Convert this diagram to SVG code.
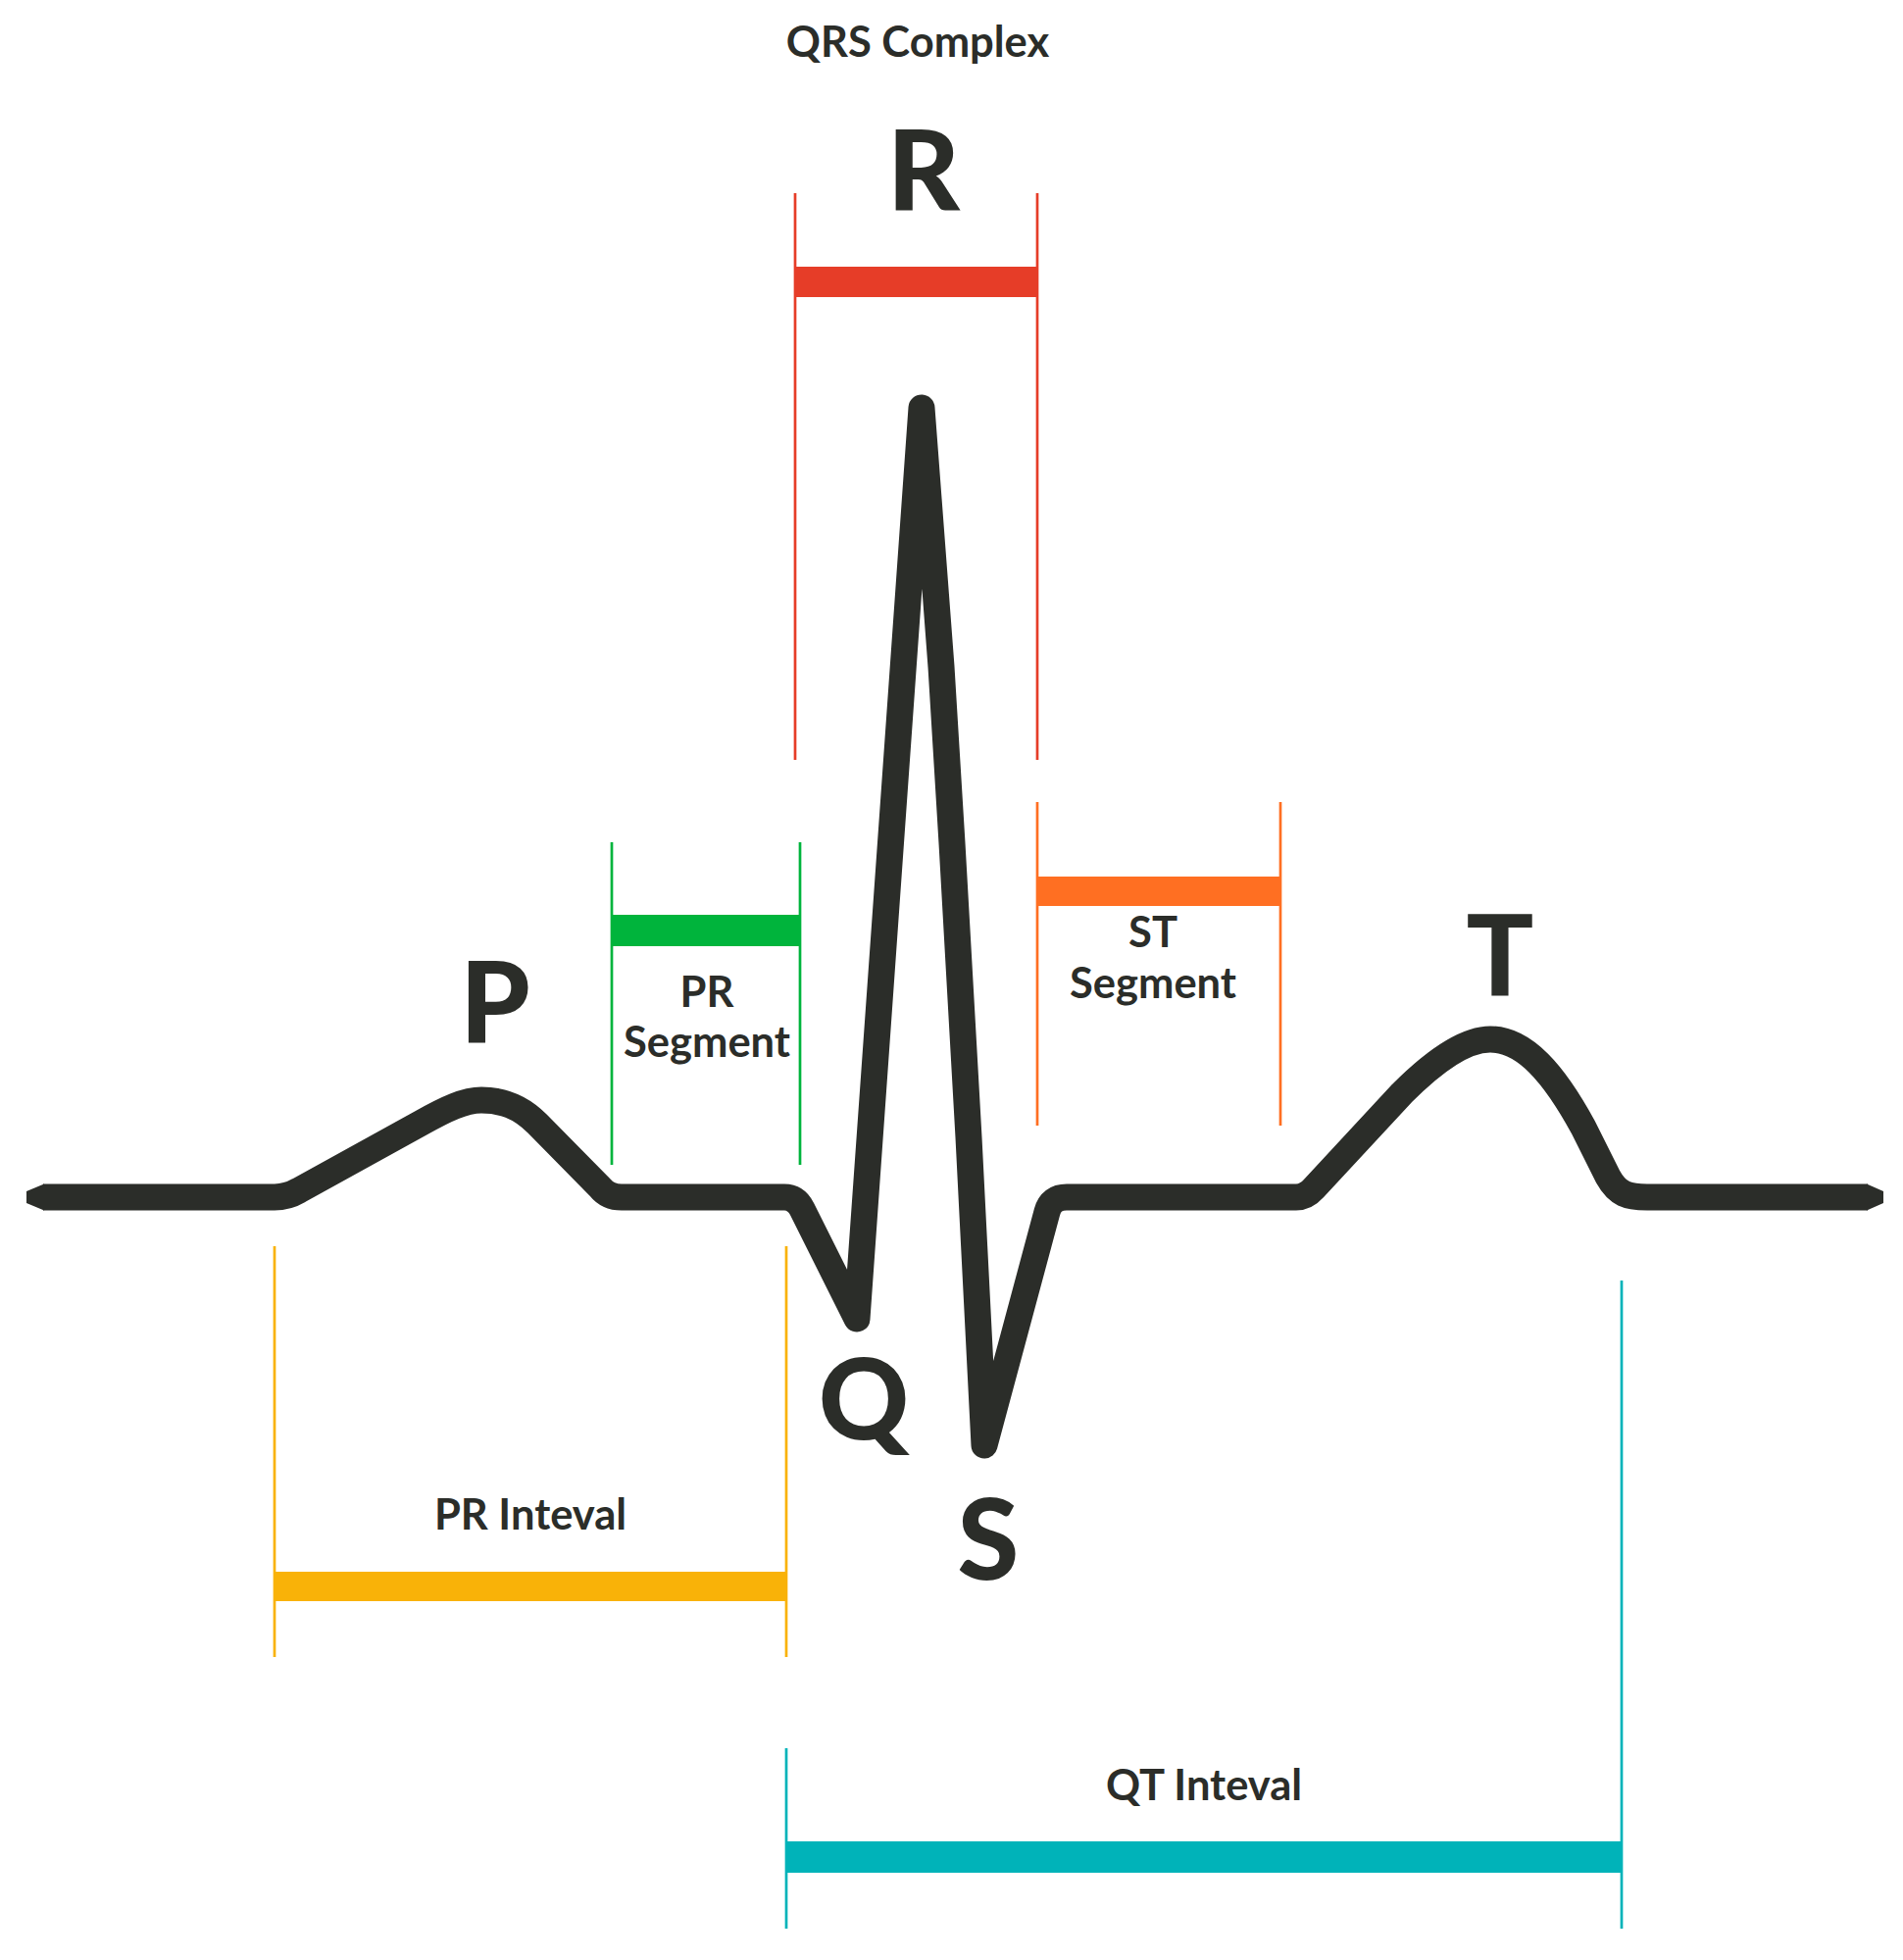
<svg xmlns="http://www.w3.org/2000/svg" width="1941" height="1999" viewBox="0 0 1941 1999">
<style>
.lbl{font-family:Lato,"Liberation Sans",sans-serif;font-weight:700;fill:#2b2d29;text-anchor:middle}
.sm{font-size:43.5px}
.big{font-size:114px;font-weight:900}
.tick{stroke-width:2.7;fill:none}
.ecg{fill:none;stroke:#2b2d29;stroke-width:27;stroke-linejoin:round;stroke-linecap:butt}
</style>
<rect width="1941" height="1999" fill="#ffffff"/>
<g id="connectors">
  <g id="qrs-complex-bracket">
    <line class="tick" x1="811" y1="197" x2="811" y2="775" stroke="#e63d28"/>
    <line class="tick" x1="1058" y1="197" x2="1058" y2="775" stroke="#e63d28"/>
    <rect x="811" y="272" width="247" height="31" fill="#e63d28"/>
  </g>
  <g id="pr-segment-bracket">
    <line class="tick" x1="624" y1="859" x2="624" y2="1188" stroke="#00b43c"/>
    <line class="tick" x1="816" y1="859" x2="816" y2="1188" stroke="#00b43c"/>
    <rect x="624" y="933" width="192" height="32" fill="#00b43c"/>
  </g>
  <g id="st-segment-bracket">
    <line class="tick" x1="1058" y1="818" x2="1058" y2="1148" stroke="#ff6f22"/>
    <line class="tick" x1="1306" y1="818" x2="1306" y2="1148" stroke="#ff6f22"/>
    <rect x="1058" y="894" width="248" height="30" fill="#ff6f22"/>
  </g>
  <g id="pr-interval-bracket">
    <line class="tick" x1="280" y1="1271" x2="280" y2="1690" stroke="#f9b208"/>
    <line class="tick" x1="802" y1="1271" x2="802" y2="1690" stroke="#f9b208"/>
    <rect x="280" y="1603" width="522" height="30" fill="#f9b208"/>
  </g>
  <g id="qt-interval-bracket">
    <line class="tick" x1="802" y1="1783" x2="802" y2="1967" stroke="#00b3b9"/>
    <line class="tick" x1="1654" y1="1306" x2="1654" y2="1967" stroke="#00b3b9"/>
    <rect x="802" y="1878" width="852" height="32" fill="#00b3b9"/>
  </g>
</g>
<g id="ecg-trace">
  <path class="ecg" d="M44,1221 L280,1221 Q293,1221 305,1214 L430,1145 C455,1131 474,1122 491,1122 C512,1122 530,1128 548,1146 L612,1211 Q620,1221 634,1221 L800,1221 Q812,1221 818,1233 L874,1345 L940,416 L960,680 L971,860 L988,1160 L1004,1474 L1068,1236 Q1072,1221 1088,1221 L1322,1221 Q1332,1221 1340,1212 L1430,1115 C1465,1080 1495,1060 1520,1060 C1555,1060 1585,1095 1615,1150 L1640,1200 C1650,1218 1660,1221 1680,1221 L1905,1221"/>
  <polygon points="45,1207.5 27,1215 27,1227 45,1234.5" fill="#2b2d29"/>
  <polygon points="1904,1207.5 1921,1215 1921,1227 1904,1234.5" fill="#2b2d29"/>
</g>
<g id="label-qrs-complex"><text class="lbl" x="936" y="58" font-size="43.5">QRS Complex</text></g>
<g id="label-r"><text class="lbl big" x="942" y="215">R</text></g>
<g id="label-p"><text class="lbl big" x="505" y="1064">P</text></g>
<g id="label-q"><text class="lbl big" x="881" y="1468">Q</text></g>
<g id="label-s"><text class="lbl big" x="1008" y="1611">S</text></g>
<g id="label-t"><text class="lbl big" x="1530" y="1015">T</text></g>
<g id="label-pr-segment"><text class="lbl sm" x="721" y="1027">PR</text><text class="lbl sm" x="721" y="1078">Segment</text></g>
<g id="label-st-segment"><text class="lbl sm" x="1176" y="966">ST</text><text class="lbl sm" x="1176" y="1018">Segment</text></g>
<g id="label-pr-interval"><text class="lbl sm" x="541" y="1560">PR Inteval</text></g>
<g id="label-qt-interval"><text class="lbl sm" x="1228" y="1836">QT Inteval</text></g>
</svg>
